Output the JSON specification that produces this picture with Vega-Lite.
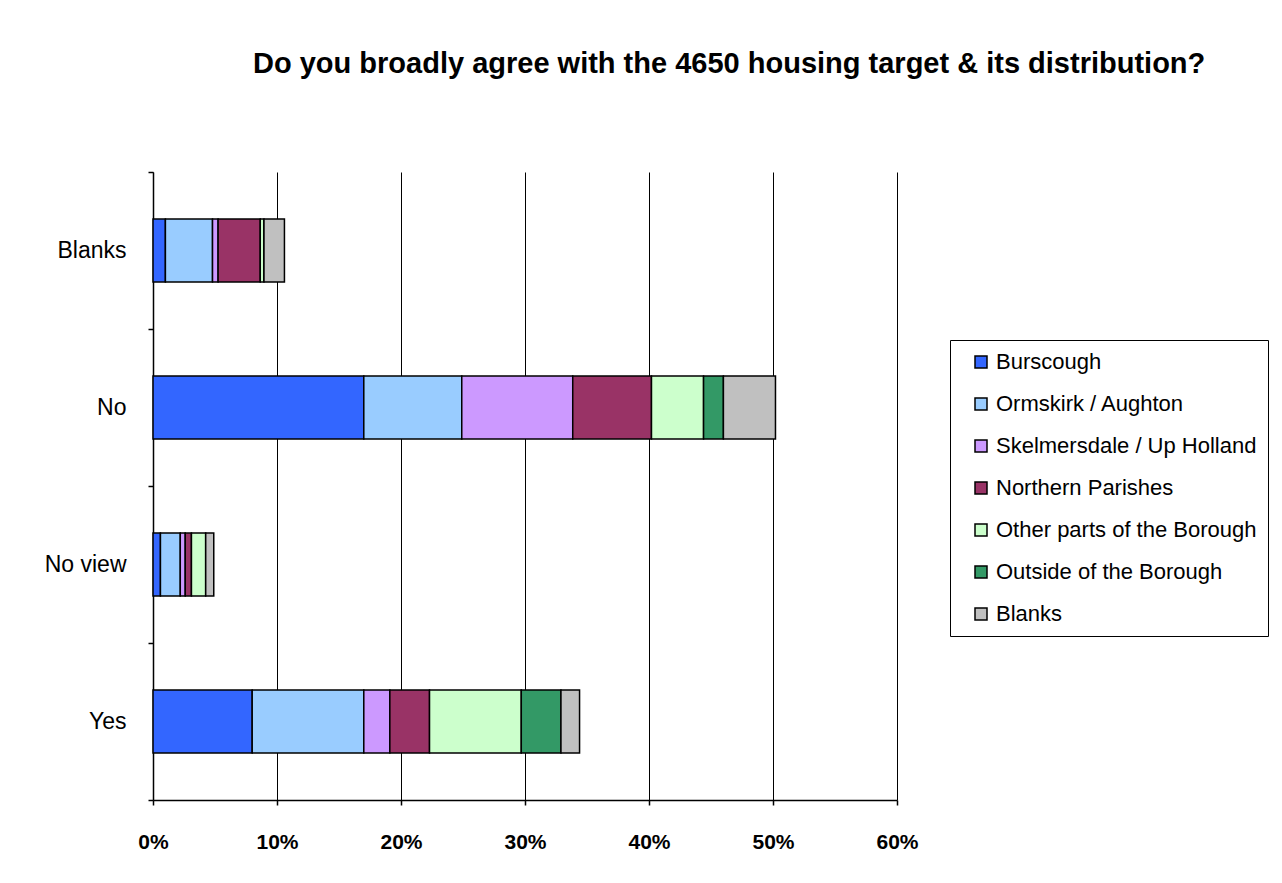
{
  "$schema": "https://vega.github.io/schema/vega-lite/v6.json",
  "autosize": {"type": "none"},
  "padding": {"left": 153, "top": 172, "right": 385, "bottom": 83},
  "width": 744,
  "height": 628,
  "background": "white",
  "title": {
    "text": "Do you broadly agree with the 4650 housing target & its distribution?",
    "anchor": "start",
    "frame": "group",
    "dx": 100,
    "offset": 82,
    "font": "Liberation Sans",
    "fontSize": 29,
    "fontWeight": "bold",
    "color": "black"
  },
  "data": {
    "values": [
      {"answer": "Blanks", "area": "Burscough", "rank": 1, "share": 0.010},
      {"answer": "Blanks", "area": "Ormskirk / Aughton", "rank": 2, "share": 0.038},
      {"answer": "Blanks", "area": "Skelmersdale / Up Holland", "rank": 3, "share": 0.0045},
      {"answer": "Blanks", "area": "Northern Parishes", "rank": 4, "share": 0.034},
      {"answer": "Blanks", "area": "Other parts of the Borough", "rank": 5, "share": 0.003},
      {"answer": "Blanks", "area": "Outside of the Borough", "rank": 6, "share": 0.0},
      {"answer": "Blanks", "area": "Blanks", "rank": 7, "share": 0.0165},
      {"answer": "No", "area": "Burscough", "rank": 1, "share": 0.170},
      {"answer": "No", "area": "Ormskirk / Aughton", "rank": 2, "share": 0.079},
      {"answer": "No", "area": "Skelmersdale / Up Holland", "rank": 3, "share": 0.0895},
      {"answer": "No", "area": "Northern Parishes", "rank": 4, "share": 0.0635},
      {"answer": "No", "area": "Other parts of the Borough", "rank": 5, "share": 0.042},
      {"answer": "No", "area": "Outside of the Borough", "rank": 6, "share": 0.016},
      {"answer": "No", "area": "Blanks", "rank": 7, "share": 0.042},
      {"answer": "No view", "area": "Burscough", "rank": 1, "share": 0.006},
      {"answer": "No view", "area": "Ormskirk / Aughton", "rank": 2, "share": 0.016},
      {"answer": "No view", "area": "Skelmersdale / Up Holland", "rank": 3, "share": 0.004},
      {"answer": "No view", "area": "Northern Parishes", "rank": 4, "share": 0.005},
      {"answer": "No view", "area": "Other parts of the Borough", "rank": 5, "share": 0.0115},
      {"answer": "No view", "area": "Outside of the Borough", "rank": 6, "share": 0.0},
      {"answer": "No view", "area": "Blanks", "rank": 7, "share": 0.0065},
      {"answer": "Yes", "area": "Burscough", "rank": 1, "share": 0.080},
      {"answer": "Yes", "area": "Ormskirk / Aughton", "rank": 2, "share": 0.090},
      {"answer": "Yes", "area": "Skelmersdale / Up Holland", "rank": 3, "share": 0.021},
      {"answer": "Yes", "area": "Northern Parishes", "rank": 4, "share": 0.032},
      {"answer": "Yes", "area": "Other parts of the Borough", "rank": 5, "share": 0.074},
      {"answer": "Yes", "area": "Outside of the Borough", "rank": 6, "share": 0.032},
      {"answer": "Yes", "area": "Blanks", "rank": 7, "share": 0.015}
    ]
  },
  "mark": {"type": "bar", "stroke": "black", "strokeWidth": 1.5, "height": {"band": 0.4}},
  "encoding": {
    "y": {
      "field": "answer",
      "type": "nominal",
      "sort": ["Blanks", "No", "No view", "Yes"],
      "scale": {"paddingInner": 0, "paddingOuter": 0},
      "axis": {
        "title": null,
        "tickBand": "extent",
        "domainColor": "black",
        "domainWidth": 1.5,
        "tickColor": "black",
        "tickWidth": 1.5,
        "tickSize": 5,
        "labelFont": "Liberation Sans",
        "labelFontSize": 23,
        "labelColor": "black",
        "labelPadding": 22
      }
    },
    "x": {
      "field": "share",
      "type": "quantitative",
      "stack": "zero",
      "scale": {"domain": [0, 0.6], "nice": false},
      "axis": {
        "title": null,
        "format": ".0%",
        "values": [0, 0.1, 0.2, 0.3, 0.4, 0.5, 0.6],
        "grid": true,
        "gridColor": "black",
        "gridWidth": 1,
        "gridOpacity": 1,
        "domainColor": "black",
        "domainWidth": 1.5,
        "tickColor": "black",
        "tickWidth": 1.5,
        "tickSize": 5,
        "labelFlush": false,
        "labelFont": "Liberation Sans",
        "labelFontSize": 21,
        "labelFontWeight": 600,
        "labelColor": "black",
        "labelPadding": 26
      }
    },
    "color": {
      "field": "area",
      "type": "nominal",
      "sort": ["Burscough", "Ormskirk / Aughton", "Skelmersdale / Up Holland", "Northern Parishes", "Other parts of the Borough", "Outside of the Borough", "Blanks"],
      "scale": {
        "domain": ["Burscough", "Ormskirk / Aughton", "Skelmersdale / Up Holland", "Northern Parishes", "Other parts of the Borough", "Outside of the Borough", "Blanks"],
        "range": ["#3366FF", "#99CCFF", "#CC99FF", "#993366", "#CCFFCC", "#339966", "#C0C0C0"]
      },
      "legend": {
        "title": null,
        "orient": "none",
        "legendX": 797,
        "legendY": 168,
        "strokeColor": "black",
        "fillColor": "white",
        "padding": 11,
        "symbolType": "square",
        "symbolSize": 144,
        "symbolStrokeColor": "black",
        "symbolStrokeWidth": 1.5,
        "symbolOffset": 9,
        "labelFont": "Liberation Sans",
        "labelFontSize": 22,
        "labelColor": "black",
        "labelOffset": 4,
        "labelLimit": 400,
        "rowPadding": 20
      }
    },
    "order": {"field": "rank", "type": "quantitative", "sort": "ascending"}
  },
  "config": {"view": {"stroke": null}}
}
